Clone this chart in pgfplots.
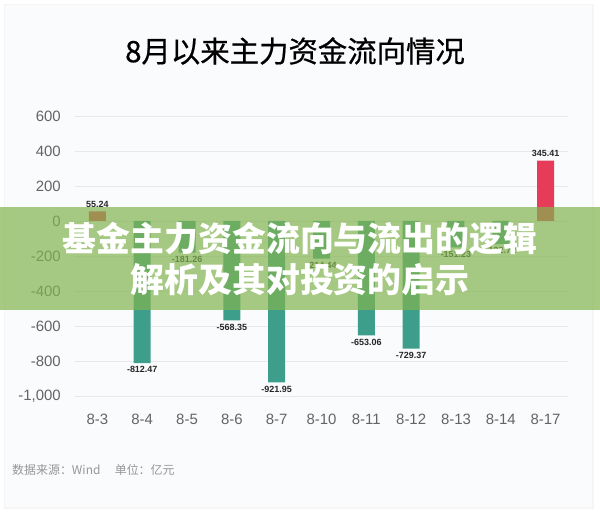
\documentclass[border=0pt]{standalone}
\usepackage{pgfplots}
\pgfplotsset{compat=1.18}
\usepackage{fontspec}
\setmainfont{Liberation Sans}
\newfontfamily\cjk{Noto Sans CJK SC}
\newfontfamily\cjktitle{Noto Sans CJK SC}[FakeBold=0.6]
\definecolor{cardbg}{RGB}{250,251,253}
\definecolor{barred}{RGB}{230,60,90}
\definecolor{barteal}{RGB}{62,158,140}
\definecolor{gridc}{RGB}{230,232,236}
\definecolor{tickc}{RGB}{100,100,100}
\definecolor{banner}{RGB}{130,180,79}
\definecolor{footc}{RGB}{150,150,150}
\begin{document}
\begin{tikzpicture}[x=1bp,y=1bp]
\path[use as bounding box] (0,0) rectangle (600,518);
\fill[white] (0,0) rectangle (600,518);
\fill[gray!8] (4,9) rectangle (594,514);
\fill[cardbg] (5,11) rectangle (592,513);
\node[font=\cjktitle\fontsize{29.5}{32}\selectfont, text=black] at (295,467) {8月以来主力资金流向情况};
\begin{axis}[
  at={(75bp,122bp)}, anchor=south west,
  scale only axis, width=493bp, height=280bp,
  xmin=-0.5, xmax=10.5, ymin=-1000, ymax=600,
  axis line style={draw=none},
  major tick length=0pt,
  ymajorgrids, grid style={gridc, line width=0.8bp},
  ytick={-1000,-800,...,600},
  xtick={0,...,10},
  xticklabels={8-3,8-4,8-5,8-6,8-7,8-10,8-11,8-12,8-13,8-14,8-17},
  /pgf/number format/assume math mode=true,
  /pgf/number format/1000 sep={,},
  tick label style={font=\fontsize{15}{15}\selectfont, text=tickc},
  yticklabel style={anchor=east, inner sep=0pt, xshift=-14bp},
  xticklabel style={inner sep=0pt, yshift=-18bp},
  nodes near coords={\pgfmathprintnumber[fixed,fixed zerofill,precision=2,1000 sep={}]{\pgfplotspointmeta}},
  nodes near coords align={vertical},
  every node near coord/.append style={font=\bfseries\fontsize{9}{9}\selectfont, text=black!85},
  clip=false,
]
\addplot[ybar, bar width=17bp, bar shift=0pt, fill=barred, draw=none] coordinates {(0,55.24) (10,345.41)};
\addplot[ybar, bar width=17bp, bar shift=0pt, fill=barteal, draw=none] coordinates {
(1,-812.47) (2,-181.26) (3,-568.35) (4,-921.95) (5,-214.44) (6,-653.06) (7,-729.37) (8,-151.23) (9,-132.72)};
\end{axis}
\fill[banner, opacity=0.7] (0,208) rectangle (600,311);
\node[font=\cjk\bfseries\fontsize{34}{42}\selectfont, text=white, align=center] at (300,259) {基金主力资金流向与流出的逻辑\\解析及其对投资的启示};
\node[anchor=west, font=\cjk\fontsize{12}{12}\selectfont, text=footc, inner sep=0pt] at (12,48) {数据来源：Wind\hspace{1.2em}单位：亿元};
\end{tikzpicture}
\end{document}
